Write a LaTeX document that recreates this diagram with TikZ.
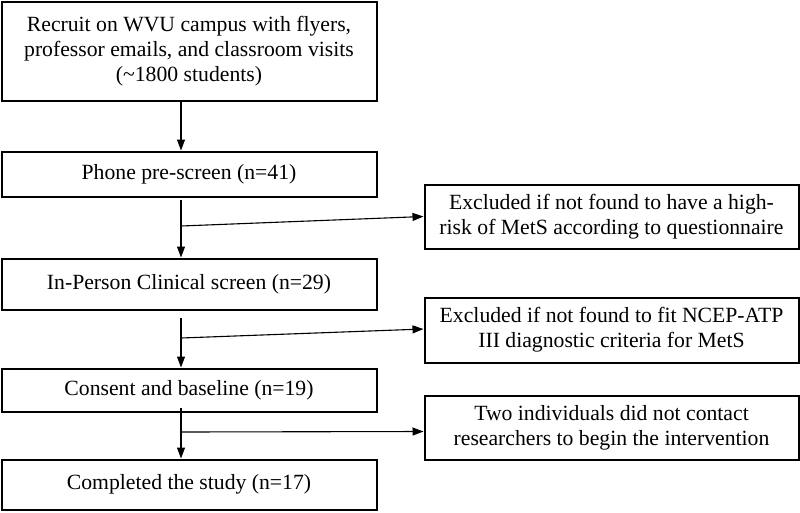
\documentclass[tikz,border=0pt]{standalone}
\usepackage{fontspec}
\setmainfont{Liberation Serif}
\usetikzlibrary{arrows.meta}
\begin{document}
\begin{tikzpicture}[x=1pt,y=-1pt,
  box/.style={draw, line width=2pt, inner sep=0pt, align=center, font=\fontsize{21.7}{25}\selectfont},
  conn/.style={line width=1.1pt, -{Triangle[length=11pt,width=8pt]}}]
\useasboundingbox (0,0) rectangle (800,512);
\node[box, minimum width=375pt, minimum height=99pt] (b1) at (189,51) {Recruit on WVU campus with flyers,\\professor emails, and classroom visits\\(\textasciitilde1800 students)};
\node[box, minimum width=375pt, minimum height=45pt] (b2) at (189,174) {Phone pre-screen (n=41)};
\node[box, minimum width=375pt, minimum height=51pt] (b3) at (189,284) {In-Person Clinical screen (n=29)};
\node[box, minimum width=375pt, minimum height=43pt] (b4) at (189,390) {Consent and baseline (n=19)};
\node[box, minimum width=375pt, minimum height=50pt] (b5) at (189,484.5) {Completed the study (n=17)};
\node[box, minimum width=374pt, minimum height=64pt] (r1) at (611.5,216.5) {Excluded if not found to have a high-\\risk of MetS according to questionnaire};
\node[box, minimum width=374pt, minimum height=65pt] (r2) at (611.5,330) {Excluded if not found to fit NCEP-ATP\\III diagnostic criteria for MetS};
\node[box, minimum width=374pt, minimum height=64pt] (r3) at (611.5,427.5) {Two individuals did not contact\\researchers to begin the intervention};
% vertical connectors
\coordinate (s2) at (181,200);
\coordinate (s3) at (181,318);
\coordinate (s4) at (181,408);
\coordinate (j1) at (181,226);
\coordinate (j2) at (181,338);
\coordinate (j3) at (181,432);
\draw[conn] (b1.south -| s2) -- (b2.north -| s2);
\draw[conn] (s2) -- (b3.north -| s2);
\draw[conn] (s3) -- (b4.north -| s3);
\draw[conn] (s4) -- (b5.north -| s4);
\draw[conn] (j1) -- (r1.west);
\draw[conn] (j2) -- ([yshift=1pt]r2.west);
\draw[conn] (j3) -- ([yshift=-4pt]r3.west);
\end{tikzpicture}
\end{document}
